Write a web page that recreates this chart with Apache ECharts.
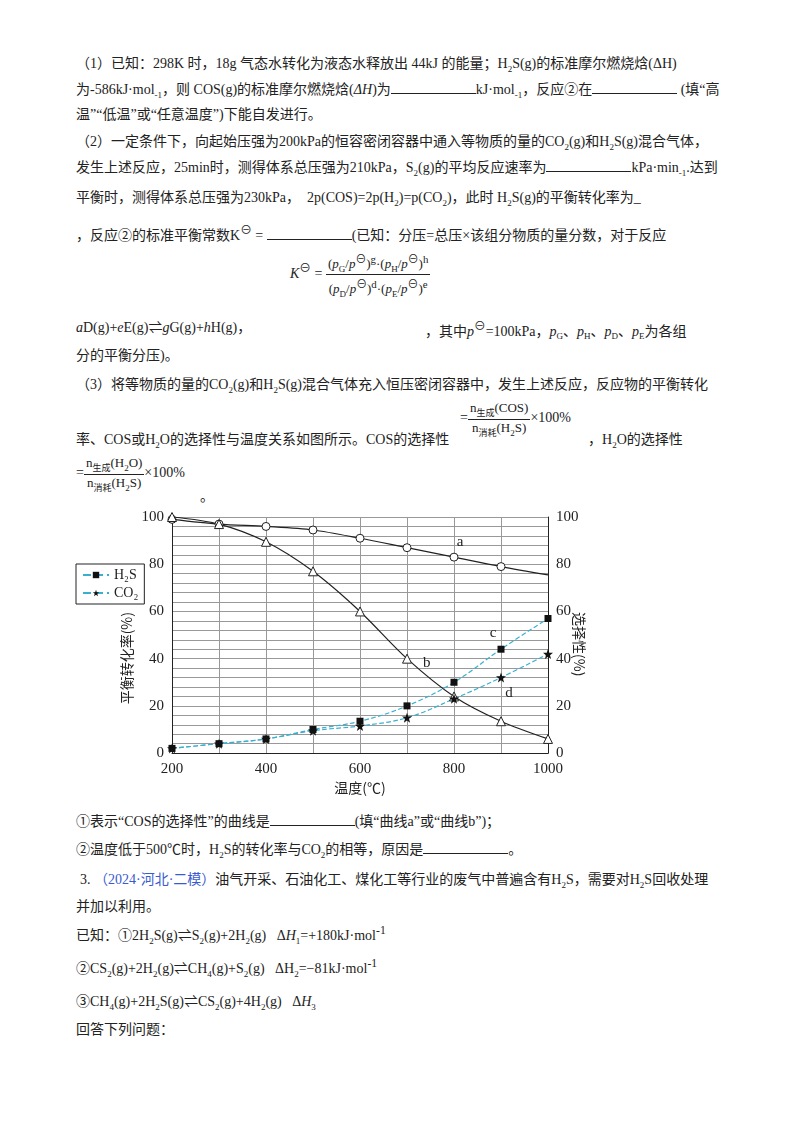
<!DOCTYPE html>
<html><head><meta charset="utf-8">
<script src="https://cdn.jsdelivr.net/npm/echarts@6/dist/echarts.min.js"></script>
<style>
body{margin:0;background:#fff;width:800px;height:1134px;position:relative;font-family:"Liberation Serif","Noto Sans CJK SC",serif;font-size:14px;color:#222;}
.l{position:absolute;left:76px;white-space:nowrap;}
.u{display:inline-block;border-bottom:1px solid #222;width:85px;height:12px;}
.fr{display:inline-block;vertical-align:middle;text-align:center;font-size:13px;}
.fr span{display:block;}
.fr .t{border-bottom:1px solid #222;padding:0 2px;}
sub{font-size:9px;}
#c{position:absolute;left:70px;top:500px;width:540px;height:300px;}
</style></head><body>
<div class="l" style="top:52px">（1）已知：298K 时，18g 气态水转化为液态水释放出 44kJ 的能量；H<sub>2</sub>S(g)的标准摩尔燃烧焓(ΔH)</div>
<div class="l" style="top:78px;left:76px">为-586kJ·mol<sub>-1</sub>，则 COS(g)的标准摩尔燃烧焓(<i>ΔH</i>)为<span class="u"></span>kJ·mol<sub>-1</sub>，反应②在<span class="u"></span> (填“高</div>
<div class="l" style="top:103px">温”“低温”或“任意温度”)下能自发进行。</div>
<div class="l" style="top:130px">（2）一定条件下，向起始压强为200kPa的恒容密闭容器中通入等物质的量的CO<sub>2</sub>(g)和H<sub>2</sub>S(g)混合气体，</div>
<div class="l" style="top:156px">发生上述反应，25min时，测得体系总压强为210kPa，S<sub>2</sub>(g)的平均反应速率为<span class="u"></span>kPa·min<sub>-1</sub>.达到</div>
<div class="l" style="top:186px">平衡时，测得体系总压强为230kPa，&nbsp;&nbsp;2p(COS)=2p(H<sub>2</sub>)=p(CO<sub>2</sub>)，此时 H<sub>2</sub>S(g)的平衡转化率为_</div>
<div class="l" style="top:220px">，反应②的标准平衡常数K<sup>⊖</sup> = <span class="u"></span>(已知：分压=总压×该组分物质的量分数，对于反应</div>
<div class="l" style="top:250px;left:290px"><i>K</i><sup>⊖</sup> = <span class="fr"><span class="t">(<i>p</i><sub>G</sub>/<i>p</i><sup>⊖</sup>)<sup>g</sup>·(<i>p</i><sub>H</sub>/<i>p</i><sup>⊖</sup>)<sup>h</sup></span><span>(<i>p</i><sub>D</sub>/<i>p</i><sup>⊖</sup>)<sup>d</sup>·(<i>p</i><sub>E</sub>/<i>p</i><sup>⊖</sup>)<sup>e</sup></span></span></div>
<div class="l" style="top:316px"><i>a</i>D(g)+<i>e</i>E(g)⇌<i>g</i>G(g)+<i>h</i>H(g)，</div>
<div class="l" style="top:316px;left:425px">，其中<i>p</i><sup>⊖</sup>=100kPa，<i>p</i><sub>G</sub>、<i>p</i><sub>H</sub>、<i>p</i><sub>D</sub>、<i>p</i><sub>E</sub>为各组</div>
<div class="l" style="top:344px">分的平衡分压)。</div>
<div class="l" style="top:373px">（3）将等物质的量的CO<sub>2</sub>(g)和H<sub>2</sub>S(g)混合气体充入恒压密闭容器中，发生上述反应，反应物的平衡转化</div>
<div class="l" style="top:400px;left:460px">=<span class="fr"><span class="t">n<sub>生成</sub>(COS)</span><span>n<sub>消耗</sub>(H<sub>2</sub>S)</span></span>×100%</div>
<div class="l" style="top:428px">率、COS或H<sub>2</sub>O的选择性与温度关系如图所示。COS的选择性</div>
<div class="l" style="top:428px;left:588px">，H<sub>2</sub>O的选择性</div>
<div class="l" style="top:455px">=<span class="fr"><span class="t">n<sub>生成</sub>(H<sub>2</sub>O)</span><span>n<sub>消耗</sub>(H<sub>2</sub>S)</span></span>×100%</div>
<div class="l" style="top:485px;left:200px">。</div>
<div id="c"></div>
<div class="l" style="top:810px">①表示“COS的选择性”的曲线是<span class="u"></span>(填“曲线a”或“曲线b”)；</div>
<div class="l" style="top:838px">②温度低于500℃时，H<sub>2</sub>S的转化率与CO<sub>2</sub>的相等，原因是<span class="u"></span>。</div>
<div class="l" style="top:868px;left:80px">3. <span style="color:#3a5bd0">（2024·河北·二模）</span>油气开采、石油化工、煤化工等行业的废气中普遍含有H<sub>2</sub>S，需要对H<sub>2</sub>S回收处理</div>
<div class="l" style="top:895px">并加以利用。</div>
<div class="l" style="top:924px">已知：①2H<sub>2</sub>S(g)⇌S<sub>2</sub>(g)+2H<sub>2</sub>(g) &nbsp; Δ<i>H</i><sub>1</sub>=+180kJ·mol<sup>-1</sup></div>
<div class="l" style="top:957px">②CS<sub>2</sub>(g)+2H<sub>2</sub>(g)⇌CH<sub>4</sub>(g)+S<sub>2</sub>(g) &nbsp; ΔH<sub>2</sub>=−81kJ·mol<sup>-1</sup></div>
<div class="l" style="top:990px">③CH<sub>4</sub>(g)+2H<sub>2</sub>S(g)⇌CS<sub>2</sub>(g)+4H<sub>2</sub>(g) &nbsp; Δ<i>H</i><sub>3</sub></div>
<div class="l" style="top:1018px">回答下列问题：</div>
<script>
const temps=[200,300,400,500,600,700,800,900,1000];
const curveA=[99,97,96,94.5,91,87,83,79,75.5];
const curveB=[100,97,89.5,77,60,40,24,13.5,6];
const h2s=[2,4,6,10,13.5,20,30,44,57];
const co2=[2,4,6,9.5,11.5,15,23,32,42];
const yTicks=[0,20,40,60,80,100];
const pts=(arr)=>arr.map((v,i)=>[temps[i],v]);
function lab(arr,idx,txt,pos,off){const d=pts(arr);d[idx]={value:d[idx],label:{show:true,formatter:txt,position:pos,offset:off,fontSize:15,color:'#222',fontFamily:'Liberation Serif'}};return d;}
const ch=echarts.init(document.getElementById('c'));
const ax={fontFamily:'Liberation Serif',fontSize:15,color:'#222'};
const nm={fontFamily:'Noto Sans CJK SC',fontSize:14,fill:'#222'};
const aData=lab(curveA,6,'a','top',[6,2]);aData[8]={value:[1000,75.5],symbol:'none'};
ch.setOption({animation:false,
grid:{left:102,right:62,top:17,bottom:45},
legend:{left:6,top:64,orient:'vertical',itemGap:4,itemWidth:26,itemHeight:8,padding:[4,6],borderColor:'#222',borderWidth:1,textStyle:{fontFamily:'Liberation Serif',fontSize:14,color:'#222'},data:['H₂S','CO₂']},
graphic:[
{type:'text',left:50,top:112,rotation:Math.PI/2,style:Object.assign({text:'平衡转化率(%)'},nm)},
{type:'text',left:502,top:112,rotation:-Math.PI/2,style:Object.assign({text:'选择性(%)'},nm)}],
xAxis:{type:'value',min:200,max:1000,interval:100,axisLabel:Object.assign({formatter:v=>v%200===0?v:''},ax),axisLine:{lineStyle:{color:'#222'}},axisTick:{show:false},splitLine:{lineStyle:{color:'#999'}},name:'温度(℃)',nameLocation:'middle',nameGap:22,nameTextStyle:{fontFamily:'Noto Sans CJK SC',fontSize:14,color:'#222'}},
yAxis:[{type:'value',min:0,max:100,interval:4,axisLabel:Object.assign({formatter:v=>yTicks.includes(v)?v:''},ax),axisLine:{show:true,lineStyle:{color:'#222'}},axisTick:{show:false},splitLine:{lineStyle:{color:'#999'}}},
{type:'value',min:0,max:100,interval:4,axisLabel:Object.assign({formatter:v=>yTicks.includes(v)?v:''},ax),axisLine:{show:true,lineStyle:{color:'#222'}},axisTick:{show:false},splitLine:{show:false}}],
series:[
{name:'a',type:'line',smooth:0.3,data:aData,symbol:'circle',symbolSize:8,itemStyle:{color:'#fff',borderColor:'#222',borderWidth:1},lineStyle:{color:'#222',width:1.2}},
{name:'b',type:'line',smooth:0.3,data:lab(curveB,5,'b','right',[6,4]),symbol:'triangle',symbolSize:9,itemStyle:{color:'#fff',borderColor:'#222',borderWidth:1},lineStyle:{color:'#222',width:1.2}},
{name:'H₂S',type:'line',smooth:0.4,data:lab(h2s,7,'c','top',[-8,0]),symbol:'rect',symbolSize:7,itemStyle:{color:'#111'},lineStyle:{color:'#3ab0d0',width:1.2,type:'dashed'}},
{name:'CO₂',type:'line',smooth:0.4,data:lab(co2,7,'d','bottom',[8,-2]),symbol:'path://M0,-10L2.4,-3.2L9.5,-3.1L3.8,1.2L5.9,8.1L0,4L-5.9,8.1L-3.8,1.2L-9.5,-3.1L-2.4,-3.2Z',symbolSize:10,itemStyle:{color:'#111'},lineStyle:{color:'#3ab0d0',width:1.2,type:'dashed'}}
]});
</script></body></html>
